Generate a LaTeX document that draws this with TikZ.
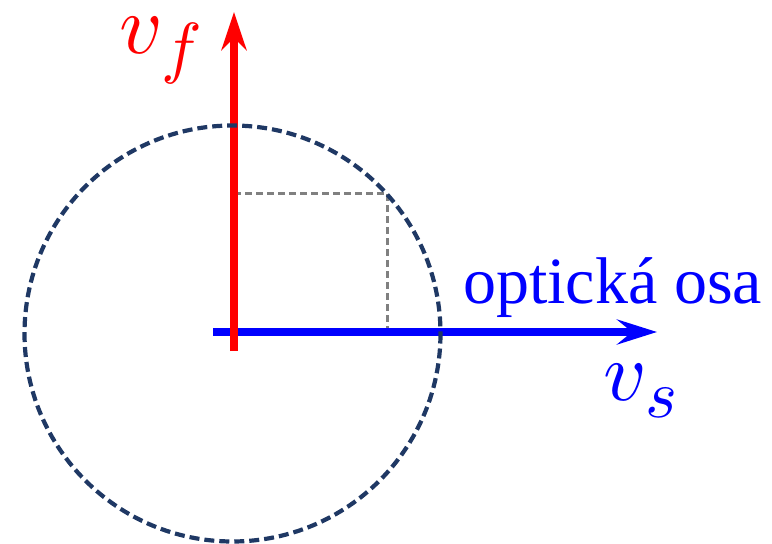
\documentclass[tikz,border=0pt]{standalone}
\usepackage{fontspec}
\usepackage{unicode-math}
\setmainfont{Liberation Serif}
\setmathfont{Latin Modern Math}
\usetikzlibrary{arrows.meta}
\definecolor{circnavy}{HTML}{1F3864}
\definecolor{vred}{HTML}{FF0000}
\definecolor{vblue}{HTML}{0000FF}
\newcommand{\vecsym}[2]{{\fontsize{84}{84}\selectfont$#1$}\kern1pt\raisebox{-17pt}{\fontsize{68}{68}\selectfont$#2$}}
\tikzset{
  vecred/.style={draw=vred, line width=8pt, -{Stealth[length=38pt,width=25pt,inset=12pt]}},
  vecblue/.style={draw=vblue, line width=8pt, -{Stealth[length=40pt,width=25pt,inset=15pt]}},
  helper/.style={draw=gray, line width=3pt, dash pattern=on 7pt off 4pt},
  locus/.style={draw=circnavy, line width=4.2pt, dash pattern=on 10pt off 5pt},
  lbl/.style={inner sep=0pt, anchor=base west}
}
\begin{document}
\begin{tikzpicture}[x=1pt,y=-1pt]
\useasboundingbox (0,0) rectangle (772,544);
\coordinate (O) at (232.5,333.5);
\coordinate (rb) at (234,351);
\coordinate (rt) at (234,12);
\coordinate (bl) at (213,332);
\coordinate (br) at (657,332);
\coordinate (ph) at (234,193.3);
\coordinate (pc) at (387,193.3);
\coordinate (pb) at (387,331);
\draw[helper] (ph) -- (pc) -- (pb);
\draw[vecblue] (bl) -- (br);
\draw[vecred] (rb) -- (rt);
\draw[locus] (O) circle[radius=208];
\node[lbl, text=vblue, font=\fontsize{66}{66}\selectfont] (axis) at (463,303) {optická osa};
\node[lbl, text=vred] (vf) at (119,53) {\vecsym{v}{f}};
\node[lbl, text=vblue] (vs) at (603,400) {\vecsym{v}{s}};
\end{tikzpicture}
\end{document}
